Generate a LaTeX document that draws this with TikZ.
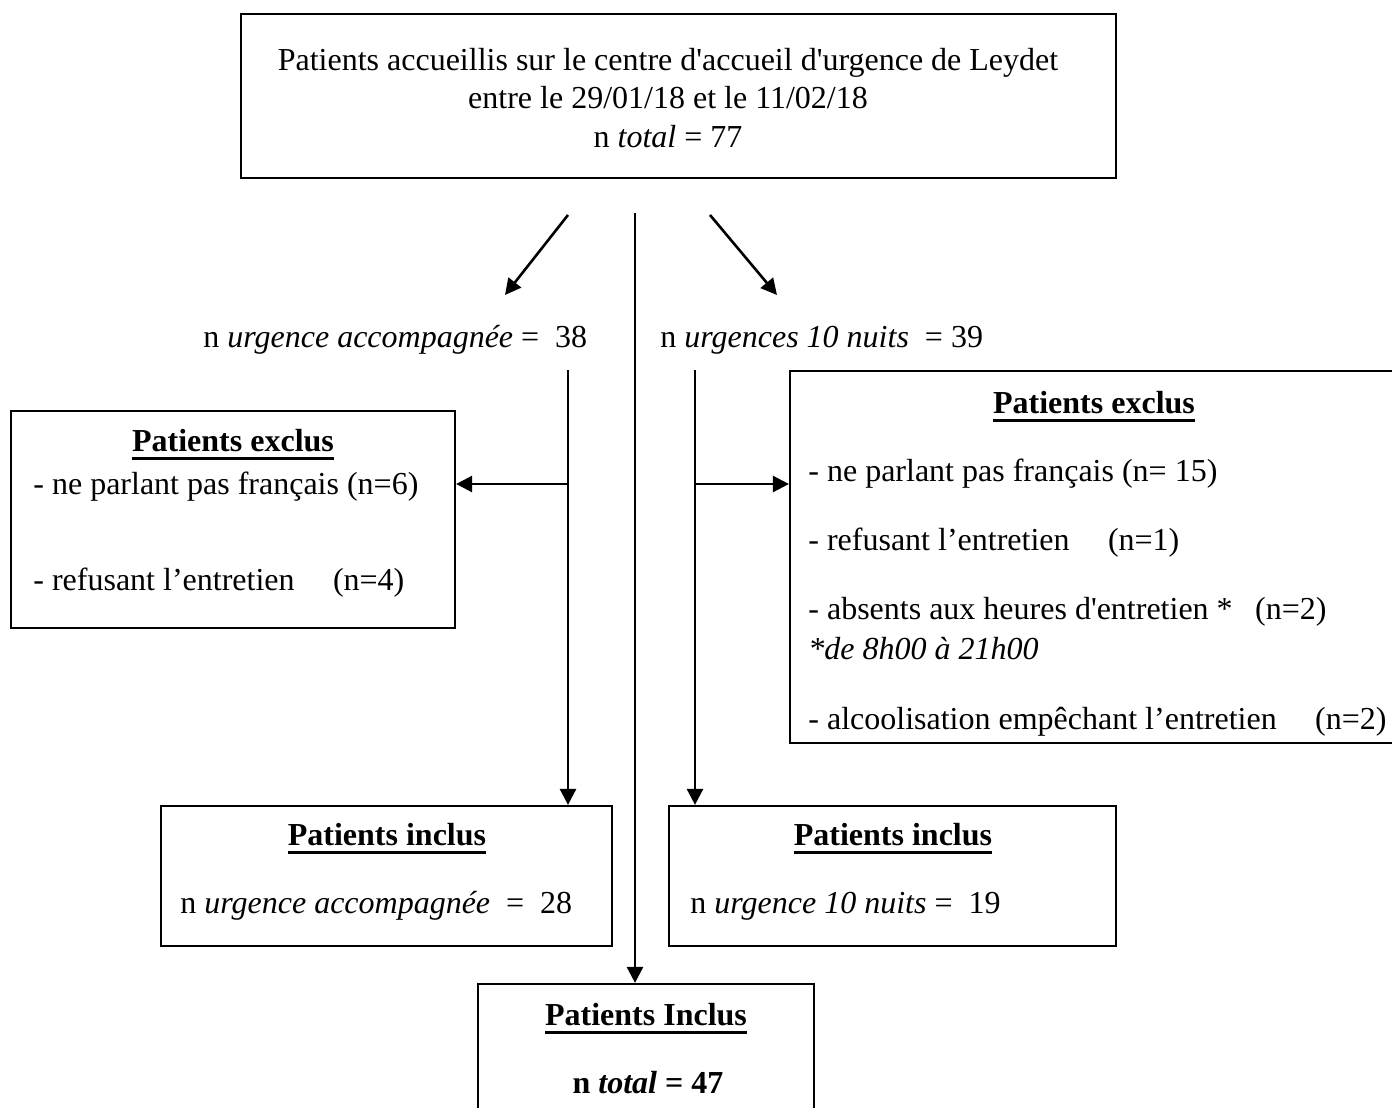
\documentclass[tikz,border=0pt]{standalone}
\usepackage{fontspec}
\setmainfont{Liberation Serif}[Ligatures=TeXOff]
\usetikzlibrary{arrows.meta,fit}
\newsavebox\headbox
\newcommand\ulhead[1]{\sbox\headbox{\bfseries #1}\rlap{\rule[-4.6pt]{\wd\headbox}{1.4pt}}\usebox\headbox}
\tikzset{
  box/.style={draw, line width=1.1pt, inner sep=0pt},
  txt/.style={font=\fontsize{16}{19}\selectfont, inner sep=0pt, anchor=base west},
  ctxt/.style={txt, anchor=base},
  arr/.style={line width=1.3pt, -{Triangle[length=8pt,width=8pt]}}
}
\begin{document}
\begin{tikzpicture}[x=0.5pt, y=-0.5pt]
\clip (0,0) rectangle (1392,1108);
\fill[white] (0,0) rectangle (1392,1108);
% boxes
\node[box, fit={(241,14) (1116,178)}] (top) {};
\node[box, fit={(11,411) (455,628)}] (exA) {};
\node[box, fit={(790,371) (1420,743)}] (exB) {};
\node[box, fit={(161,806) (612,946)}] (inA) {};
\node[box, fit={(669,806) (1116,946)}] (inB) {};
\node[box, fit={(478,984) (814,1140)}] (fin) {};
% top text
\node[ctxt] (t1) at (668,70) {Patients accueillis sur le centre d'accueil d'urgence de Leydet};
\node[ctxt] (t2) at (668,108) {entre le 29/01/18 et le 11/02/18};
\node[ctxt] (t3) at (668,147) {n \textit{total} = 77};
% branch labels
\node[txt] (lA) at (203,347) {n \textit{urgence accompagnée} =~~38};
\node[txt] (lB) at (660,347) {n \textit{urgences 10 nuits}~~= 39};
% excluded left
\node[ctxt] (hA) at (233,451) {\ulhead{Patients exclus}};
\node[txt] (a1) at (33,494) {- ne parlant pas français (n=6)};
\node[txt] (a2) at (33,590) {- refusant l’entretien\hspace{1.2em}(n=4)};
% excluded right
\node[ctxt] (hB) at (1094,413) {\ulhead{Patients exclus}};
\node[txt] (b1) at (808,481) {- ne parlant pas français (n= 15)};
\node[txt] (b2) at (808,550) {- refusant l’entretien\hspace{1.2em}(n=1)};
\node[txt] (b3) at (808,619) {- absents aux heures d'entretien *\hspace{0.7em}(n=2)};
\node[txt] (b4) at (808,659) {\textit{*de 8h00 à 21h00}};
\node[txt] (b5) at (808,729) {- alcoolisation empêchant l’entretien\hspace{1.2em}(n=2)};
% included
\node[ctxt] (hC) at (387,845) {\ulhead{Patients inclus}};
\node[txt] (c1) at (180,913) {n \textit{urgence accompagnée}~~=~~28};
\node[ctxt] (hD) at (893,845) {\ulhead{Patients inclus}};
\node[txt] (d1) at (690,913) {n \textit{urgence 10 nuits} =~~19};
\node[ctxt] (hE) at (646,1025) {\ulhead{Patients Inclus}};
\node[ctxt] (e1) at (648,1093) {\textbf{n \textit{total} = 47}};
% connector end points
\coordinate (s1) at (568,215);
\coordinate (e1p) at (505,295);
\coordinate (s2) at (710,215);
\coordinate (e2p) at (777,295);
\coordinate (s0) at (635,213);
\coordinate (vA) at (568,370);
\coordinate (vB) at (695,370);
\coordinate (hAa) at (568,484);
\coordinate (hBb) at (695,484);
% connectors
\draw[arr] (s1) -- (e1p);
\draw[arr] (s2) -- (e2p);
\draw[arr] (s0) -- (s0 |- fin.north);
\draw[arr] (vA) -- (vA |- inA.north);
\draw[arr] (vB) -- (vB |- inB.north);
\draw[arr] (hAa) -- (hAa -| exA.east);
\draw[arr] (hBb) -- (hBb -| exB.west);
\end{tikzpicture}
\end{document}
